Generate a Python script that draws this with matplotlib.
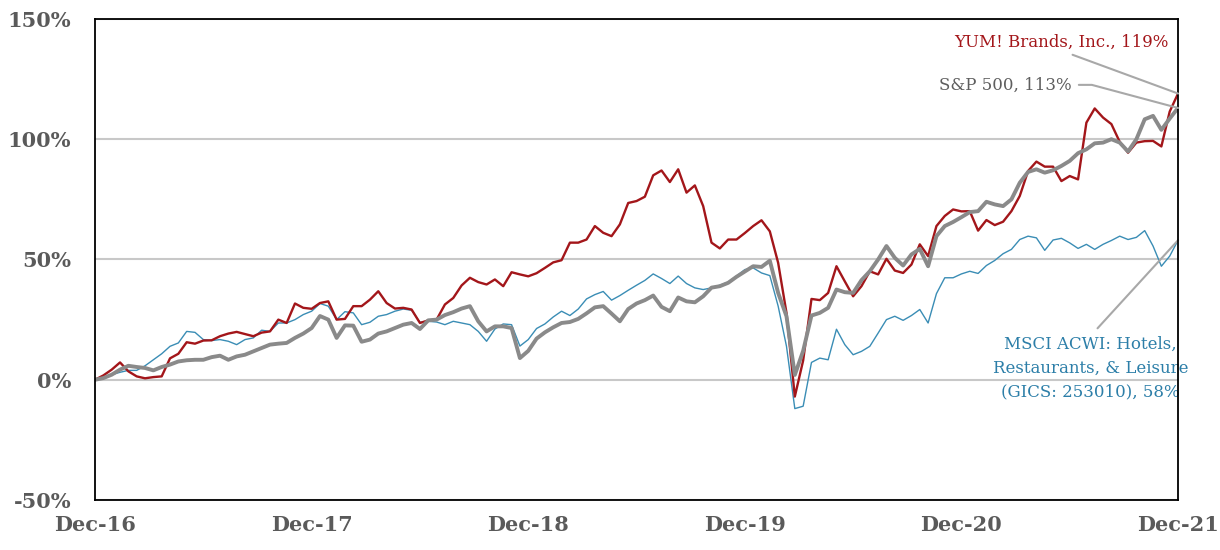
import numpy as np
import pandas as pd
import matplotlib
import matplotlib.pyplot as plt
from matplotlib.ticker import FuncFormatter

matplotlib.use('Agg')

# biweekly closes, Dec-16 .. Dec-21, cumulative total return in %
dates = pd.date_range("2016-12-30", periods=131, freq="14D")

yum = [
    0, 1.8, 4.2, 7.2, 3.5, 1.4, 0.6, 1.1, 1.4, 8.9, 10.8, 15.6, 15.0, 16.3, 16.4, 18.1,
    19.2, 19.9, 19.0, 18.1, 19.6, 20.1, 25.0, 23.6, 31.7, 29.9, 29.5, 31.9, 32.6, 25.0,
    25.3, 30.6, 30.6, 33.3, 36.8, 31.9, 29.6, 29.9, 29.2, 23.6, 24.7, 25.0, 31.3, 34.0,
    39.2, 42.4, 40.6, 39.6, 41.7, 38.9, 44.7, 43.8, 43.0, 44.3, 46.5, 48.8, 49.7, 57.0,
    57.0, 58.3, 63.9, 61.1, 59.7, 64.6, 73.5, 74.3, 76.1, 85.0, 87.0, 82.2, 87.5, 77.8,
    80.8, 72.2, 57.0, 54.6, 58.3, 58.3, 61.0, 63.9, 66.3, 61.7, 48.6, 27.8, -7.0, 8.0,
    33.6, 33.1, 36.1, 47.2, 40.9, 34.7, 38.9, 45.1, 43.8, 50.3, 45.4, 44.4, 47.9, 56.3,
    51.4, 63.9, 68.1, 70.8, 70.0, 70.1, 62.0, 66.4, 64.3, 65.7, 70.1, 76.4, 86.8, 90.7,
    88.6, 88.6, 82.6, 84.7, 83.3, 106.9, 112.8, 109.0, 106.3, 98.9, 94.4, 98.6, 99.2,
    99.3, 97.0, 111.5, 119.0,
]

spx = [
    0, 0.7, 2.1, 4.2, 5.8, 5.3, 4.9, 3.9, 5.3, 6.3, 7.6, 8.1, 8.3, 8.3, 9.4, 10.0,
    8.3, 9.7, 10.4, 11.8, 13.2, 14.6, 15.0, 15.3, 17.4, 19.2, 21.5, 26.5, 25.0, 17.4,
    22.6, 22.5, 15.8, 16.7, 19.2, 20.1, 21.5, 22.9, 23.6, 21.1, 24.7, 25.0, 26.9, 28.1,
    29.6, 30.6, 24.3, 20.1, 22.2, 22.2, 21.5, 9.0, 12.0, 17.1, 19.7, 21.8, 23.6, 24.0,
    25.3, 27.6, 30.1, 30.6, 27.5, 24.3, 29.4, 31.7, 33.1, 35.0, 30.3, 28.5, 34.2, 32.6,
    32.2, 34.7, 38.3, 38.9, 40.3, 42.8, 45.0, 47.2, 46.9, 49.5, 36.1, 26.4, 2.0, 12.0,
    26.7, 27.8, 29.9, 37.5, 36.4, 36.1, 41.4, 45.1, 50.0, 55.6, 50.7, 47.5, 52.1, 54.4,
    47.2, 59.7, 63.9, 65.6, 67.6, 69.7, 70.1, 74.0, 72.9, 72.2, 75.0, 81.9, 86.4, 87.5,
    86.1, 87.1, 88.9, 91.0, 94.2, 95.8, 98.3, 98.6, 100.0, 98.6, 94.9, 100.0, 108.3,
    109.7, 103.9, 108.6, 113.0,
]

msci = [
    0, 1.1, 2.1, 3.1, 3.9, 3.9, 5.8, 8.3, 10.8, 13.9, 15.3, 20.1, 19.7, 16.7, 16.3, 16.7,
    16.0, 14.6, 16.7, 17.4, 20.6, 20.1, 23.6, 23.6, 25.0, 27.1, 28.5, 31.7, 30.6, 25.0,
    28.3, 27.8, 22.9, 23.9, 26.4, 27.1, 28.5, 29.4, 28.9, 23.9, 24.3, 24.0, 22.9, 24.3,
    23.6, 22.9, 20.1, 16.0, 21.1, 23.2, 22.9, 14.0, 16.7, 21.3, 23.2, 26.1, 28.5, 26.7,
    29.4, 33.6, 35.4, 36.7, 33.1, 35.0, 37.2, 39.3, 41.3, 44.0, 42.1, 40.0, 43.1, 40.0,
    38.2, 37.5, 38.2, 39.3, 40.6, 43.1, 45.8, 46.5, 44.4, 43.3, 30.6, 13.9, -12.0, -11.0,
    7.2, 9.0, 8.3, 21.0, 14.6, 10.4, 11.8, 13.9, 19.4, 25.0, 26.4, 24.7, 26.7, 29.2,
    23.6, 35.8, 42.4, 42.4, 44.0, 45.1, 44.2, 47.5, 49.6, 52.4, 54.2, 58.3, 59.7, 59.0,
    53.8, 58.1, 58.8, 56.9, 54.6, 56.3, 54.2, 56.3, 57.9, 59.7, 58.3, 59.2, 62.0, 55.6,
    47.2, 51.4, 58.0,
]

labels = {
    "yum": "YUM! Brands, Inc., {:.0f}%",
    "spx": "S&P 500, {:.0f}%",
    "msci": "MSCI ACWI: Hotels,\nRestaurants, & Leisure\n(GICS: 253010), {:.0f}%",
}

RED = "#A3161A"
GRAY = "#8A8A8A"
BLUE = "#3A8DB5"
LEADER = "#A8A8A8"

plt.rcParams['font.family'] = ['DejaVu Serif']

fig = plt.figure(figsize=(12.2, 5.5), dpi=100)
ax = fig.add_axes([0.0779, 0.0909, 0.8877, 0.8746])

ax.plot(dates, msci, color=BLUE, linewidth=1.0, zorder=3)
ax.plot(dates, yum, color=RED, linewidth=1.7, zorder=4)
ax.plot(dates, spx, color=GRAY, linewidth=2.8, zorder=5)

ax.set_xlim(dates[0], dates[-1])
ax.set_ylim(-50, 150)
ax.set_yticks([-50, 0, 50, 100, 150])
ax.yaxis.set_major_formatter(FuncFormatter(lambda v, p: f"{v:.0f}%"))
ax.set_xticks(dates[::26])
ax.set_xticklabels([d.strftime("%b-%y") for d in dates[::26]])

ax.grid(axis='y', color='#C8C8C8', linewidth=1.5, zorder=1)
ax.set_axisbelow(True)
for s in ax.spines.values():
    s.set_color('black')
    s.set_linewidth(1.3)
    s.set_zorder(6)

ax.tick_params(axis='both', length=0, labelcolor='#5A5A5A', labelsize=15)
ax.tick_params(axis='y', pad=17)
ax.tick_params(axis='x', pad=11)
for t in ax.get_xticklabels() + ax.get_yticklabels():
    t.set_fontweight('bold')

# end-of-line labels with leader lines
ax.annotate(labels["yum"].format(yum[-1]), xy=(dates[-1], yum[-1]),
            xytext=(0.991, 0.952), textcoords='axes fraction',
            ha='right', va='center', fontsize=12, color=RED,
            arrowprops=dict(arrowstyle='-', color=LEADER, lw=1.5,
                            relpos=(0.5, 0), shrinkA=3, shrinkB=0),
            annotation_clip=False, zorder=7)

ax.annotate(labels["spx"].format(spx[-1]), xy=(dates[-1], spx[-1]),
            xytext=(0.902, 0.863), textcoords='axes fraction',
            ha='right', va='center', fontsize=12, color='#5E5E5E',
            arrowprops=dict(arrowstyle='-', color=LEADER, lw=1.5,
                            relpos=(1, 0.5), shrinkA=3, shrinkB=0,
                            connectionstyle="angle,angleA=0,angleB=165,rad=0"),
            annotation_clip=False, zorder=7)

ax.annotate(labels["msci"].format(msci[-1]), xy=(dates[-1], msci[-1]),
            xytext=(0.919, 0.274), textcoords='axes fraction',
            ha='center', va='center', fontsize=12, color='#2C7EA8',
            linespacing=1.5,
            arrowprops=dict(arrowstyle='-', color=LEADER, lw=1.5,
                            relpos=(0.5, 1), shrinkA=5, shrinkB=0),
            annotation_clip=False, zorder=5.5)

fig.savefig("out.png", dpi=100)
